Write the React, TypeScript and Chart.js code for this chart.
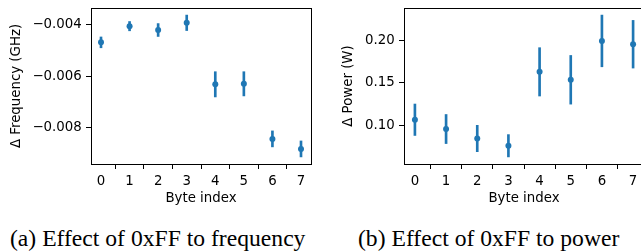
import React, { useEffect, useRef } from "react";
import { Chart, registerables } from "chart.js";

Chart.register(...registerables);

// ---- data ----
const byteIndex = [0, 1, 2, 3, 4, 5, 6, 7];
const freqMean = [-0.00468, -0.00405, -0.0042, -0.00392, -0.00631, -0.00629, -0.00843, -0.00882];
const freqErr = [0.00021, 0.00018, 0.00025, 0.0003, 0.00049, 0.00047, 0.00031, 0.00031];
const powerMean = [0.1063, 0.0953, 0.0841, 0.0755, 0.163, 0.1536, 0.1996, 0.1957];
const powerErr = [0.0186, 0.0172, 0.0156, 0.0132, 0.0286, 0.0288, 0.0306, 0.0282];
const xTicks = [0, 1, 2, 3, 4, 5, 6, 7];
const freqTicks = [-0.008, -0.006, -0.004];
const powerTicks = [0.1, 0.15, 0.2];

const BLUE = "#1f77b4";
const FONT = { family: "'DejaVu Sans'", size: 13.33, lineHeight: 1.2 };

Chart.defaults.color = "#000";
Chart.defaults.font.family = "'DejaVu Sans'";

function padRange(mean: number[], err: number[]): [number, number] {
  const lo = Math.min(...mean.map((m, i) => m - err[i]));
  const hi = Math.max(...mean.map((m, i) => m + err[i]));
  const m = (hi - lo) * 0.05;
  return [lo - m, hi + m];
}

const framePlugin = {
  id: "frame",
  afterDraw(chart: any) {
    const { ctx, chartArea: a } = chart;
    ctx.save();
    ctx.strokeStyle = "#000";
    ctx.lineWidth = 1;
    ctx.strokeRect(a.left + 0.5, a.top + 0.5, a.right - a.left, a.bottom - a.top);
    ctx.restore();
  },
};

type PlotProps = {
  mean: number[];
  err: number[];
  ticks: number[];
  digits: number;
  yTitle: string;
  left: number;
  width: number;
  height: number;
  yWidth: number;
  padRight: number;
  titlePad: number;
};

function ErrorPlot(p: PlotProps) {
  const ref = useRef<HTMLCanvasElement>(null);
  useEffect(() => {
    if (!ref.current) return;
    const [ymin, ymax] = padRange(p.mean, p.err);
    const plotBottom = 164;
    const chart = new Chart(ref.current, {
      type: "scatter",
      data: {
        datasets: [
          {
            type: "scatter",
            data: byteIndex.map((x, i) => ({ x, y: p.mean[i] })),
            backgroundColor: BLUE,
            borderWidth: 0,
            pointRadius: 3,
            pointHoverRadius: 3,
          } as any,
          {
            type: "bar",
            data: byteIndex.map((x, i) => ({ x, y: [p.mean[i] - p.err[i], p.mean[i] + p.err[i]] })),
            backgroundColor: BLUE,
            borderWidth: 0,
            barThickness: 2,
            maxBarThickness: 2,
          } as any,
        ],
      },
      options: {
        responsive: false,
        animation: false,
        devicePixelRatio: 1,
        events: [],
        layout: { padding: { top: 8, right: p.padRight, left: 0, bottom: 0 } },
        plugins: { legend: { display: false }, tooltip: { enabled: false } },
        scales: {
          x: {
            type: "linear",
            min: -0.35,
            max: 7.35,
            offset: false,
            afterBuildTicks: (s: any) => {
              s.ticks = xTicks.map((v) => ({ value: v }));
            },
            afterFit: (s: any) => {
              s.height = p.height - plotBottom;
              s.paddingLeft = 0;
              s.paddingRight = 0;
            },
            grid: { drawOnChartArea: false, drawTicks: true, tickLength: 5, color: "#000", lineWidth: 1 },
            border: { display: false },
            ticks: {
              font: FONT,
              color: "#000",
              padding: 4.3,
              maxRotation: 0,
              autoSkip: false,
              callback: (v: any) => String(v),
            },
            title: { display: true, text: "Byte index", font: FONT, color: "#000", padding: { top: 0, bottom: 5.6 } },
          },
          y: {
            type: "linear",
            min: ymin,
            max: ymax,
            afterBuildTicks: (s: any) => {
              s.ticks = p.ticks.map((v) => ({ value: v }));
            },
            afterFit: (s: any) => {
              s.width = p.yWidth;
              s.paddingTop = 0;
              s.paddingBottom = 0;
            },
            grid: { drawOnChartArea: false, drawTicks: true, tickLength: 5, color: "#000", lineWidth: 1 },
            border: { display: false },
            ticks: {
              font: FONT,
              color: "#000",
              padding: 4.3,
              callback: (v: any) => Number(v).toFixed(p.digits).replace("-", "\u2212"),
            },
            title: { display: true, text: p.yTitle, font: FONT, color: "#000", padding: { top: p.titlePad, bottom: 0 } },
          },
        },
      } as any,
      plugins: [framePlugin],
    });
    return () => chart.destroy();
  }, []);
  return (
    <canvas
      ref={ref}
      width={p.width}
      height={p.height}
      style={{ position: "absolute", left: p.left, top: 0, width: p.width, height: p.height }}
    />
  );
}

const captionStyle: React.CSSProperties = {
  position: "absolute",
  top: 227.8,
  fontFamily: "'Liberation Serif', 'Times New Roman', serif",
  fontSize: "22.5px",
  lineHeight: 1,
  whiteSpace: "nowrap",
  color: "#000",
  transform: "scaleX(1.05)",
  transformOrigin: "left top",
};

export default function App() {
  return (
    <div
      style={{
        position: "fixed",
        left: 0,
        top: 0,
        width: 641,
        height: 251,
        overflow: "hidden",
        background: "#fff",
      }}
    >
      <ErrorPlot
        mean={freqMean}
        err={freqErr}
        ticks={freqTicks}
        digits={3}
        yTitle={"\u0394 Frequency (GHz)"}
        left={0}
        width={320}
        height={212}
        yWidth={91}
        padRight={9}
        titlePad={8.3}
      />
      <ErrorPlot
        mean={powerMean}
        err={powerErr}
        ticks={powerTicks}
        digits={2}
        yTitle={"\u0394 Power (W)"}
        left={320}
        width={330}
        height={212}
        yWidth={84}
        padRight={6}
        titlePad={21}
      />
      <div style={{ ...captionStyle, left: 10 }}>(a) Effect of 0xFF to frequency</div>
      <div style={{ ...captionStyle, left: 358 }}>(b) Effect of 0xFF to power</div>
    </div>
  );
}
